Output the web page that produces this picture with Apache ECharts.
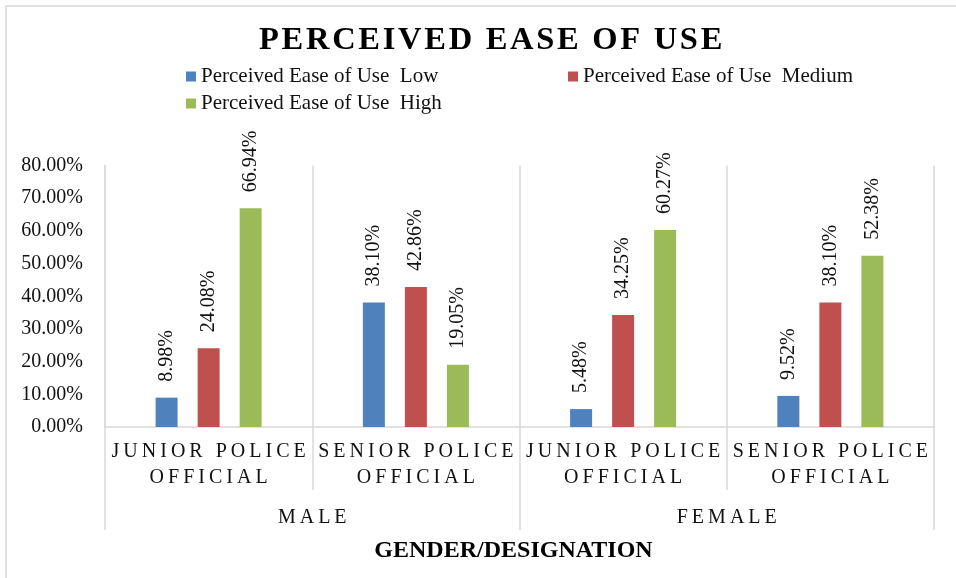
<!DOCTYPE html>
<html>
<head>
<meta charset="utf-8">
<style>
  html, body { margin: 0; padding: 0; background: #fff; }
  #chart { width: 956px; height: 578px; }
</style>
<script src="https://cdn.jsdelivr.net/npm/echarts@6/dist/echarts.min.js"></script>
</head>
<body>
<div id="chart"></div>
<script>
// Designations within each gender group, and the gender groups themselves
const designations = ['JUNIOR POLICE OFFICIAL', 'SENIOR POLICE OFFICIAL', 'JUNIOR POLICE OFFICIAL', 'SENIOR POLICE OFFICIAL'];
const genders = ['MALE', 'FEMALE'];

// Share of respondents (%) per perceived-ease level
const seriesNames = ['Perceived Ease of Use  Low', 'Perceived Ease of Use  Medium', 'Perceived Ease of Use  High'];
const lowValues = [8.98, 38.10, 5.48, 9.52];
const mediumValues = [24.08, 42.86, 34.25, 38.10];
const highValues = [66.94, 19.05, 60.27, 52.38];
const colors = ['#4F81BD', '#C0504D', '#9BBB59'];

const FONT = '"Liberation Serif", "Times New Roman", serif';
const THIN = '\u2009';
const HAIR = '\u200A';

// Spread letters apart (tracked capitals)
function track(str, sep) {
  return str.split('\n').map(line =>
    line.split(' ').map(w => w.split('').join(sep)).join(sep + ' ' + sep)
  ).join('\n');
}

// Break "X POLICE OFFICIAL" before the last word
function twoLines(name) {
  const i = name.lastIndexOf(' ');
  return name.slice(0, i) + '\n' + name.slice(i + 1);
}

const gridColor = '#D9D9D9';

const chart = echarts.init(document.getElementById('chart'));

function barSeries(name, values, color) {
  return {
    name: name,
    type: 'bar',
    data: values,
    barWidth: 22,
    barGap: '91%',
    itemStyle: { color: color },
    label: {
      show: true,
      position: 'top',
      rotate: 90,
      align: 'left',
      verticalAlign: 'middle',
      distance: 16,
      fontFamily: FONT,
      fontSize: 20,
      color: '#111',
      formatter: p => p.value.toFixed(2) + '%'
    }
  };
}

function legendAt(name, left, top) {
  return {
    data: [name],
    left: left,
    top: top,
    itemWidth: 10,
    itemHeight: 10,
    itemGap: 5,
    icon: 'rect',
    textStyle: { fontFamily: FONT, fontSize: 21, color: '#111', padding: [0, 0, 0, 0] }
  };
}

chart.setOption({
  animation: false,
  backgroundColor: '#fff',
  title: {
    text: track('PERCEIVED EASE OF USE', HAIR),
    left: 259,
    top: 24,
    padding: 0,
    textStyle: { fontFamily: FONT, fontSize: 32.5, fontWeight: 'bold', color: '#000' }
  },
  legend: [
    legendAt(seriesNames[0], 181, 61),
    legendAt(seriesNames[1], 563, 61),
    legendAt(seriesNames[2], 181, 88)
  ],
  grid: { left: 105, right: 22, top: 165.5, bottom: 151, containLabel: false },
  xAxis: [
    {
      type: 'category',
      data: designations,
      position: 'bottom',
      axisLine: { show: true, lineStyle: { color: gridColor, width: 1.5 } },
      axisTick: { show: true, length: 63, lineStyle: { color: gridColor, width: 1.5 } },
      splitLine: { show: true, lineStyle: { color: gridColor, width: 1.5 } },
      axisLabel: {
        margin: 12,
        interval: 0,
        fontFamily: FONT,
        fontSize: 20,
        lineHeight: 26,
        color: '#111',
        formatter: v => track(twoLines(v), THIN)
      }
    },
    {
      type: 'category',
      data: genders,
      position: 'bottom',
      offset: 63,
      axisLine: { show: false },
      axisTick: { show: true, length: 40, lineStyle: { color: gridColor, width: 1.5 } },
      splitLine: { show: false },
      axisLabel: {
        margin: 17,
        interval: 0,
        fontFamily: FONT,
        fontSize: 20,
        lineHeight: 22,
        color: '#111',
        formatter: v => track(v, THIN)
      },
      name: 'GENDER/DESIGNATION',
      nameLocation: 'middle',
      nameGap: 49,
      nameTextStyle: { fontFamily: FONT, fontSize: 24, fontWeight: 'bold', color: '#000', padding: [0, 12, 0, 0] }
    }
  ],
  yAxis: {
    type: 'value',
    min: 0,
    max: 80,
    interval: 10,
    axisLine: { show: true, lineStyle: { color: gridColor, width: 1.5 } },
    axisTick: { show: false },
    splitLine: { show: false },
    axisLabel: {
      margin: 22,
      fontFamily: FONT,
      fontSize: 20,
      color: '#111',
      formatter: v => v.toFixed(2) + '%'
    }
  },
  graphic: [
    {
      type: 'rect',
      shape: { x: 6, y: 6, width: 1000, height: 1000 },
      style: { fill: 'none', stroke: gridColor, lineWidth: 1.5 },
      silent: true
    }
  ],
  series: [
    barSeries(seriesNames[0], lowValues, colors[0]),
    barSeries(seriesNames[1], mediumValues, colors[1]),
    barSeries(seriesNames[2], highValues, colors[2])
  ]
});
</script>
</body>
</html>
